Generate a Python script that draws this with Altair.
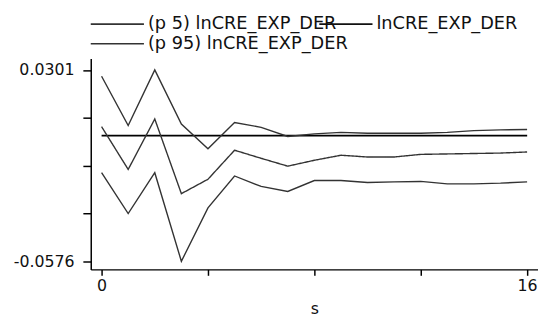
import altair as alt
import pandas as pd

steps = list(range(17))
band_names = ["(p 5) lnCRE_EXP_DER", "(p 95) lnCRE_EXP_DER"]
irf_name = ["lnCRE_EXP_DER"]
p95 = [0.0272, 0.0046, 0.0301, 0.0053, -0.0060, 0.0060, 0.0038, -0.0004, 0.0008,
       0.0015, 0.0011, 0.0011, 0.0011, 0.0015, 0.0023, 0.0026, 0.0028]
irf = [0.0041, -0.0155, 0.0076, -0.0266, -0.0200, -0.0067, -0.0104, -0.0140, -0.0113,
       -0.0090, -0.0098, -0.0098, -0.0086, -0.0084, -0.0082, -0.0080, -0.0075]
p5 = [-0.0170, -0.0357, -0.0170, -0.0576, -0.0331, -0.0185, -0.0233, -0.0256, -0.0206,
      -0.0206, -0.0215, -0.0212, -0.0210, -0.0221, -0.0221, -0.0218, -0.0212]
y_ticks = [0.0301, 0.008175, -0.01375, -0.035675, -0.0576]
x_ticks = [0, 4, 8, 12, 16]
zero_line = [0.0]

band_rows = []
for name, vals in zip(band_names, [p5, p95]):
    for s, v in zip(steps, vals):
        band_rows.append({"s": s, "value": v, "series": name})
band_df = pd.DataFrame(band_rows)
irf_df = pd.DataFrame({"s": steps, "value": irf, "series": irf_name * len(steps)})

FONT = "DejaVu Sans"
Y_SCALE = alt.Scale(domain=[-0.0613, 0.0353], nice=False, zero=False)
X_SCALE = alt.Scale(domain=[-0.4074, 16.41], nice=False, zero=False)

x_enc = alt.X("s:Q", scale=X_SCALE,
              axis=alt.Axis(values=x_ticks, title="s",
                            labelExpr="datum.value == 0 || datum.value == 16 ? datum.label : ''"))
y_enc = alt.Y("value:Q", scale=Y_SCALE,
              axis=alt.Axis(values=y_ticks, title=None,
                            labelExpr="datum.value > 0.03 ? '0.0301' : (datum.value < -0.05 ? '-0.0576' : '')"))

legend_common = dict(title=None, orient="none", legendY=-45, rowPadding=0, clipHeight=20,
                     symbolType="stroke", symbolSize=2916,
                     symbolStrokeWidth=1.6, symbolStrokeColor="#111111",
                     labelFont=FONT, labelFontSize=18, labelColor="#111111",
                     labelLimit=400, labelOffset=3, padding=0)

bands = alt.Chart(band_df).mark_line(strokeWidth=1.4).encode(
    x=x_enc,
    y=y_enc,
    color=alt.Color("series:N",
                    scale=alt.Scale(domain=band_names, range=["#333333", "#333333"]),
                    sort=band_names,
                    legend=alt.Legend(legendX=-1, **legend_common)),
    detail="series:N",
)

center = alt.Chart(irf_df).mark_line(strokeWidth=1.4, color="#333333").encode(
    x=alt.X("s:Q", scale=X_SCALE),
    y=alt.Y("value:Q", scale=Y_SCALE),
    strokeDash=alt.StrokeDash("series:N",
                              scale=alt.Scale(domain=irf_name, range=[[1, 0]]),
                              legend=alt.Legend(legendX=231, **legend_common)),
)

zero = alt.Chart(pd.DataFrame({"v": zero_line})).mark_rule(color="black", strokeWidth=1.6).encode(
    y=alt.Y("v:Q", scale=Y_SCALE),
    x=alt.value(11), x2=alt.value(443),
)

chart = alt.layer(zero, bands, center).properties(
    width=454, height=214,
    autosize=alt.AutoSizeParams(type="none"),
    padding={"left": 84, "top": 49, "right": 0, "bottom": 46},
).configure_view(stroke=None).configure_axis(
    grid=False, domainColor="black", domainWidth=1.5, tickColor="black", tickWidth=1.5,
    labelFont=FONT, labelFontSize=16, labelColor="#111111",
    titleFont=FONT, titleFontSize=16, titleColor="#111111", titleFontWeight="normal",
).configure_axisX(tickSize=6, labelPadding=2, titlePadding=8, labelFlush=False
).configure_axisY(tickSize=8, labelPadding=9)

chart.save("out.html", embed_options={"renderer": "svg", "actions": False})
